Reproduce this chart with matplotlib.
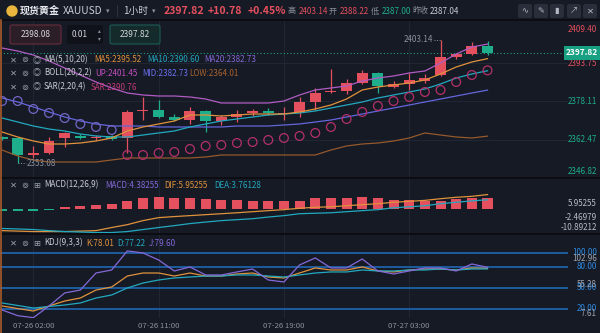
import matplotlib
matplotlib.use('Agg')
import matplotlib.pyplot as plt
import matplotlib.transforms as mtransforms
from matplotlib.patches import FancyBboxPatch, Circle

plt.rcParams['font.family'] = ['Noto Sans CJK SC', 'DejaVu Sans']

# ---------------- data (1h candles, XAUUSD) ----------------
tick_idx = [2, 10, 18, 26]
tick_labels = ['07-26 02:00', '07-26 11:00', '07-26 19:00', '07-27 03:00']

opens = [2363.66, 2363.25, 2356.34, 2357.15, 2363.25, 2364.07, 2363.25, 2364.07, 2363.25, 2374.23,
         2374.64, 2371.79, 2370.57, 2374.23, 2370.17, 2371.79, 2373.42, 2374.23, 2373.01, 2373.83,
         2377.89, 2381.96, 2382.37, 2385.62, 2389.69, 2383.99, 2385.21, 2386.43, 2388.87, 2396.19,
         2397.41, 2400.67]
highs = [2364.07, 2363.66, 2360.00, 2363.66, 2365.69, 2364.88, 2364.47, 2364.47, 2374.64, 2379.93,
         2378.71, 2373.01, 2375.86, 2374.64, 2372.61, 2374.64, 2375.05, 2375.45, 2375.86, 2379.93,
         2383.59, 2391.31, 2387.25, 2390.91, 2390.09, 2386.43, 2389.69, 2389.28, 2403.14, 2397.82,
         2402.29, 2402.90]
lows = [2362.44, 2353.08, 2355.12, 2356.75, 2359.59, 2362.85, 2362.44, 2362.44, 2357.15, 2370.57,
        2371.39, 2370.17, 2368.95, 2365.69, 2368.54, 2369.76, 2372.20, 2372.61, 2370.57, 2371.79,
        2374.64, 2381.55, 2381.15, 2385.21, 2381.55, 2383.59, 2382.77, 2385.62, 2388.47, 2395.38,
        2397.01, 2397.20]
closes = [2362.85, 2356.34, 2357.15, 2362.03, 2365.29, 2363.25, 2363.66, 2362.85, 2373.83, 2374.64,
          2371.79, 2370.57, 2374.23, 2370.17, 2371.79, 2373.01, 2374.23, 2373.42, 2373.42, 2377.89,
          2381.55, 2382.37, 2385.62, 2389.69, 2384.40, 2385.21, 2386.84, 2387.65, 2396.19, 2397.41,
          2400.67, 2397.82]

ma5 = [2365.69, 2363.66, 2362.03, 2360.81, 2360.81, 2361.22, 2362.03, 2363.25, 2366.10, 2367.73,
       2368.95, 2370.17, 2372.61, 2372.61, 2372.20, 2372.61, 2373.01, 2373.01, 2373.01, 2373.83,
       2375.05, 2376.67, 2379.11, 2382.77, 2383.99, 2384.81, 2385.62, 2386.84, 2389.28, 2392.13,
       2394.16, 2395.52]
ma10 = [2371.39, 2369.76, 2368.13, 2366.91, 2366.10, 2364.88, 2364.07, 2363.66, 2363.66, 2364.47,
        2365.29, 2366.10, 2367.73, 2368.95, 2370.17, 2370.98, 2371.79, 2372.61, 2373.01, 2373.42,
        2374.23, 2375.45, 2376.67, 2377.89, 2379.52, 2380.74, 2381.96, 2383.18, 2385.21, 2387.65,
        2389.28, 2390.60]
ma20 = [2379.52, 2377.89, 2375.86, 2373.83, 2371.79, 2370.17, 2368.95, 2368.13, 2368.13, 2368.13,
        2367.73, 2367.73, 2367.73, 2367.73, 2367.73, 2368.13, 2368.13, 2368.13, 2368.54, 2368.95,
        2369.76, 2370.57, 2371.79, 2373.01, 2374.23, 2375.45, 2376.67, 2377.89, 2379.11, 2380.33,
        2381.55, 2382.73]
boll_up = [2399.85, 2398.63, 2397.01, 2394.57, 2391.72, 2388.87, 2386.03, 2383.59, 2381.55, 2380.74,
           2380.33, 2380.33, 2379.93, 2379.11, 2377.49, 2377.49, 2377.49, 2377.49, 2378.30, 2380.74,
           2382.77, 2383.59, 2384.40, 2386.43, 2387.65, 2388.47, 2389.69, 2390.50, 2393.75, 2397.41,
           2400.26, 2401.45]
boll_low = [2358.37, 2355.93, 2354.31, 2353.49, 2353.49, 2353.49, 2353.49, 2354.31, 2355.12, 2355.12,
            2355.12, 2355.12, 2355.12, 2355.53, 2356.34, 2356.34, 2356.34, 2356.34, 2356.34, 2356.34,
            2356.34, 2358.37, 2360.00, 2360.81, 2361.22, 2362.03, 2363.25, 2365.29, 2364.47, 2363.66,
            2363.25, 2364.01]
sar = [2378.30, 2378.30, 2375.05, 2373.42, 2371.39, 2368.95, 2367.73, 2366.51, 2356.34, 2356.34,
       2357.15, 2357.56, 2358.78, 2360.00, 2360.41, 2361.22, 2361.63, 2362.44, 2363.25, 2364.07,
       2365.29, 2367.73, 2370.98, 2373.83, 2376.27, 2378.30, 2379.93, 2381.96, 2382.77, 2386.03,
       2388.87, 2390.76]

macd_hist = [-0.8, -0.8, -0.8, -0.4, 0.7, 1.1, 1.4, 1.8, 3.4, 4.6, 5.0, 4.6, 4.6, 4.2, 3.75, 3.75,
             3.3, 3.3, 3.3, 3.3, 4.6, 4.6, 4.6, 5.0, 4.6, 3.75, 3.75, 3.3, 3.3, 4.2, 4.6, 4.38]
dif = [-9.2, -9.4, -9.6, -9.6, -9.6, -9.4, -9.2, -7.9, -6.7, -5.0, -3.75, -3.3, -2.9, -2.5, -2.1, -1.7,
       -1.25, -0.8, -0.4, 0.2, 0.6, 0.8, 1.25, 1.7, 2.1, 2.7, 3.1, 3.5, 4.2, 4.8, 5.2, 5.95]
dea = [-8.3, -8.5, -8.75, -9.2, -9.6, -9.8, -10.0, -10.0, -9.6, -8.75, -7.9, -7.1, -6.25, -5.6, -5.0,
       -4.6, -4.2, -3.5, -2.9, -2.1, -1.9, -1.7, -1.25, -0.8, -0.4, 0.4, 0.8, 1.25, 2.1, 2.7, 3.3, 3.76]

k_vals = [24.3, 20.7, 17.1, 24.3, 31.4, 35.7, 47.1, 51.4, 67.1, 71.4, 71.4, 67.1, 71.4, 67.1, 67.1, 70.0,
          71.4, 65.7, 64.3, 71.4, 78.6, 75.7, 75.7, 80.0, 74.3, 72.9, 75.7, 77.1, 77.1, 75.7, 78.6, 78.01]
d_vals = [28.6, 25.0, 21.4, 23.6, 25.7, 28.6, 35.7, 40.0, 50.0, 57.1, 61.4, 64.3, 65.7, 67.1, 67.1, 68.6,
          68.6, 67.1, 65.7, 68.6, 71.4, 72.9, 72.9, 75.7, 74.3, 74.3, 75.7, 75.7, 77.1, 75.7, 77.1, 77.22]
j_vals = [18.6, 10.5, 7.61, 24.3, 42.9, 47.1, 71.4, 75.7, 102.96, 100.0, 90.0, 74.3, 80.0, 68.6, 68.6,
          72.9, 77.1, 61.4, 58.6, 82.9, 92.9, 78.6, 78.6, 91.4, 74.3, 70.0, 74.3, 78.6, 78.6, 74.3, 84.3, 79.60]

price_ticks = [2393.75, 2378.11, 2362.47]
kdj_levels = [100, 80, 50, 20]

# ---------------- style ----------------
BG = '#161a25'
UP_C = '#e5505e'
DN_C = '#1fae8c'
GRID = '#212634'
GREY = '#8b909c'
TXT = '#c9ccd4'
ORANGE = '#e0923c'
TEAL = '#22a8bf'
PURPLE = '#8468d8'

W, H = 600, 333
fig = plt.figure(figsize=(6, 3.33), dpi=100, facecolor=BG)


def rect(x0, y0, x1, y1):
    return [x0 / W, 1 - y1 / H, (x1 - x0) / W, (y1 - y0) / H]


n = len(closes)
xs = list(range(n))
XL = (-0.13, 36.14)


def style(ax):
    ax.set_facecolor(BG)
    ax.set_xlim(*XL)
    for s in ax.spines.values():
        s.set_visible(False)
    ax.set_xticks([])
    ax.set_yticks([])
    for t in tick_idx:
        ax.axvline(t, color=GRID, lw=0.8, zorder=0)


# ---- main price panel ----
ax = fig.add_axes(rect(0, 20, 568, 177))
style(ax)
ax.set_ylim(2347.39, 2411.24)
for p in price_ticks:
    ax.axhline(p, color=GRID, lw=0.8, zorder=0)

cols = [UP_C if c >= o else DN_C for o, c in zip(opens, closes)]
ax.vlines(xs, lows, highs, colors=cols, lw=0.9, zorder=2)
ax.bar(xs, [max(abs(c - o), 0.4) for o, c in zip(opens, closes)],
       bottom=[min(o, c) for o, c in zip(opens, closes)],
       width=0.7, color=cols, linewidth=0, zorder=2)

ax.plot(xs, boll_up, color='#b05cc2', lw=0.9, zorder=3)
ax.plot(xs, boll_low, color='#94592c', lw=0.9, zorder=3)
ax.plot(xs, ma20, color='#6366dc', lw=0.9, zorder=3)
ax.plot(xs, ma10, color=TEAL, lw=0.9, zorder=3)
ax.plot(xs, ma5, color=ORANGE, lw=0.9, zorder=3)
sar_cols = ['#7466c6' if s > c else '#b3306b' for s, c in zip(sar, closes)]
ax.scatter(xs, sar, s=40, facecolors='none', edgecolors=sar_cols, linewidths=0.9, zorder=4)

ax.axhline(closes[-1], color='#1e9e80', lw=0.8, ls=(0, (1, 2)), zorder=1)

i_lo = lows.index(min(lows))
ax.plot([i_lo, i_lo + 0.5], [lows[i_lo]] * 2, ls=':', color=GREY, lw=0.7)
ax.text(i_lo + 0.55, lows[i_lo], f'{lows[i_lo]:.2f}', color=GREY, fontsize=5.8, va='center', ha='left')
i_hi = highs.index(max(highs))
ax.plot([i_hi - 0.4, i_hi], [highs[i_hi]] * 2, ls=':', color=GREY, lw=0.7)
ax.text(i_hi - 0.45, highs[i_hi], f'{highs[i_hi]:.2f}', color=GREY, fontsize=5.8, va='center', ha='right')

tr = mtransforms.blended_transform_factory(ax.transAxes, ax.transData)
for p in price_ticks:
    ax.text(597 / 568, p, f'{p:.2f}', transform=tr, ha='right', va='center', fontsize=5.8,
            color=UP_C if p > 2387.04 else DN_C)
ax.text(582 / 568, closes[-1], f'{closes[-1]:.2f}', transform=tr, ha='center', va='center',
        fontsize=6, color='white', fontweight='bold',
        bbox=dict(boxstyle='square,pad=0.25', fc='#17a082', ec='none'))

# ---- MACD panel ----
ax2 = fig.add_axes(rect(0, 178, 568, 233))
style(ax2)
ax2.set_ylim(-10.2, 12.9)
ax2.bar(xs, macd_hist, width=0.64, color=[UP_C if v >= 0 else DN_C for v in macd_hist], linewidth=0)
ax2.plot(xs, dif, color=ORANGE, lw=0.9)
ax2.plot(xs, dea, color=TEAL, lw=0.9)

# ---- KDJ panel ----
ax3 = fig.add_axes(rect(0, 234, 568, 318))
style(ax3)
ax3.set_ylim(7.14, 127.1)
for lv in kdj_levels:
    ax3.axhline(lv, color='#1f68b4', lw=1.2, zorder=1)
ax3.plot(xs, k_vals, color=ORANGE, lw=0.9, zorder=3)
ax3.plot(xs, d_vals, color=TEAL, lw=0.9, zorder=3)
ax3.plot(xs, j_vals, color=PURPLE, lw=0.9, zorder=3)
ax3.set_xticks(tick_idx, tick_labels)
ax3.tick_params(axis='x', length=0, labelsize=5.6, colors=GREY, pad=3)
tr3 = mtransforms.blended_transform_factory(ax3.transAxes, ax3.transData)
for lv in kdj_levels:
    ax3.text(597 / 568, lv, f'{lv:.2f}', transform=tr3, ha='right', va='center', fontsize=5.8, color='#2f8ae0')

# ---- overlay in pixel coordinates ----
ov = fig.add_axes([0, 0, 1, 1])
ov.set_xlim(0, W)
ov.set_ylim(H, 0)
ov.axis('off')

for yy in (20, 177.5, 233.5):
    ov.plot([0, W], [yy, yy], color='#0b0d13', lw=1.4)
ov.plot([0.6, 0.6], [20, H], color='#a85a2a', lw=1.2)

# header
ov.add_patch(Circle((12, 11), 5, color='#e9b53c'))
ov.text(20, 11, '现货黄金', fontsize=7.2, fontweight='bold', color='#e6e8ee', va='center')
ov.text(63, 11, 'XAUUSD', fontsize=7.3, color=TXT, va='center')
ov.text(106, 11, '▾', fontsize=5, color=GREY, va='center')
ov.text(116, 11, '|', fontsize=7, color='#3a3f4c', va='center')
ov.text(123, 11, '1小时', fontsize=7, color=TXT, va='center')
ov.text(152, 11, '▾', fontsize=5, color=GREY, va='center')
ov.text(164, 11, '2397.82', fontsize=7.6, fontweight='bold', color=UP_C, va='center')
ov.text(208, 11, '+10.78', fontsize=7.6, fontweight='bold', color=UP_C, va='center')
ov.text(248, 11, '+0.45%', fontsize=7.6, fontweight='bold', color=UP_C, va='center')
hdr = [(287, '高', GREY), (299, '2403.14', UP_C), (329, '开', GREY), (340, '2388.22', UP_C),
       (371, '低', GREY), (382, '2387.00', DN_C), (412, '昨收', GREY), (430, '2387.04', TXT)]
for x, s, c in hdr:
    ov.text(x, 11, s, fontsize=5.8, color=c, va='center')
for x, s in zip([518, 534, 550, 567, 583], ['∿', '✎', '▮', '↗', '✕']):
    ov.add_patch(FancyBboxPatch((x, 4), 14, 14, boxstyle='round,pad=0,rounding_size=2',
                                fc='#2a2e3a', ec='none'))
    ov.text(x + 7, 11, s, fontsize=6, color='#b5b9c4', ha='center', va='center')

# order boxes
ov.add_patch(FancyBboxPatch((10, 25), 51, 19, boxstyle='round,pad=0,rounding_size=2',
                            fc='#2c1e27', ec='#6a2e3e', lw=0.8))
ov.text(35.5, 34.5, '2398.08', fontsize=6, color='#d4d6dc', ha='center', va='center')
ov.add_patch(FancyBboxPatch((67, 25), 36, 19, boxstyle='round,pad=0,rounding_size=2',
                            fc='#0f1218', ec='none'))
ov.text(80, 34.5, '0.01', fontsize=6, color='#d4d6dc', ha='center', va='center')
ov.text(99, 30.5, '▴', fontsize=4, color=GREY, ha='center', va='center')
ov.text(99, 39, '▾', fontsize=4, color=GREY, ha='center', va='center')
ov.add_patch(FancyBboxPatch((110, 25), 50, 19, boxstyle='round,pad=0,rounding_size=2',
                            fc='#142a2b', ec='#1d5c52', lw=0.8))
ov.text(135, 34.5, '2397.82', fontsize=6, color='#d4d6dc', ha='center', va='center')

# indicator legends
rows = [
    (60, '◎', [(44, 'MA(5,10,20)', TXT), (94, 'MA5:2395.52', ORANGE), (147, 'MA10:2390.60', TEAL),
               (204, 'MA20:2382.73', PURPLE)]),
    (73, '◎', [(44, 'BOLL(20,2,2)', TXT), (95, 'UP:2401.45', '#c24fc0'), (142, 'MID:2382.73', '#6a6ff0'),
               (189, 'LOW:2364.01', '#a8622e')]),
    (87, '◎', [(44, 'SAR(2,20,4)', TXT), (91, 'SAR:2390.76', '#c23a78')]),
    (185, '⊞', [(44, 'MACD(12,26,9)', TXT), (105, 'MACD:4.38255', PURPLE), (164, 'DIF:5.95255', ORANGE),
                (214, 'DEA:3.76128', TEAL)]),
    (243, '⊞', [(44, 'KDJ(9,3,3)', TXT), (86, 'K:78.01', ORANGE), (117, 'D:77.22', TEAL),
                (149, 'J:79.60', PURPLE)]),
]
for y, third, items in rows:
    ov.text(13, y, '✕', fontsize=6, color='#9aa0ab', ha='center', va='center')
    ov.text(25, y, '⊚', fontsize=6, color='#9aa0ab', ha='center', va='center')
    ov.text(37, y, third, fontsize=6, color='#9aa0ab', ha='center', va='center')
    for x, s, c in items:
        ov.text(x, y, s, fontsize=5.8, color=c, va='center')

# right axis labels outside the data range
side = [(29, '2409.40', UP_C), (172, '2346.82', DN_C),
        (203, '5.95255', '#b7bbc5'), (218, '-2.46979', '#b7bbc5'), (228, '-10.89212', '#b7bbc5'),
        (258.5, '102.96', '#9ea3ae'), (284.5, '55.28', '#9ea3ae'), (314, '7.61', '#9ea3ae')]
for y, s, c in side:
    ov.text(597, y, s, fontsize=5.8, color=c, ha='right', va='center')

fig.savefig('out.png', dpi=100, facecolor=BG)
